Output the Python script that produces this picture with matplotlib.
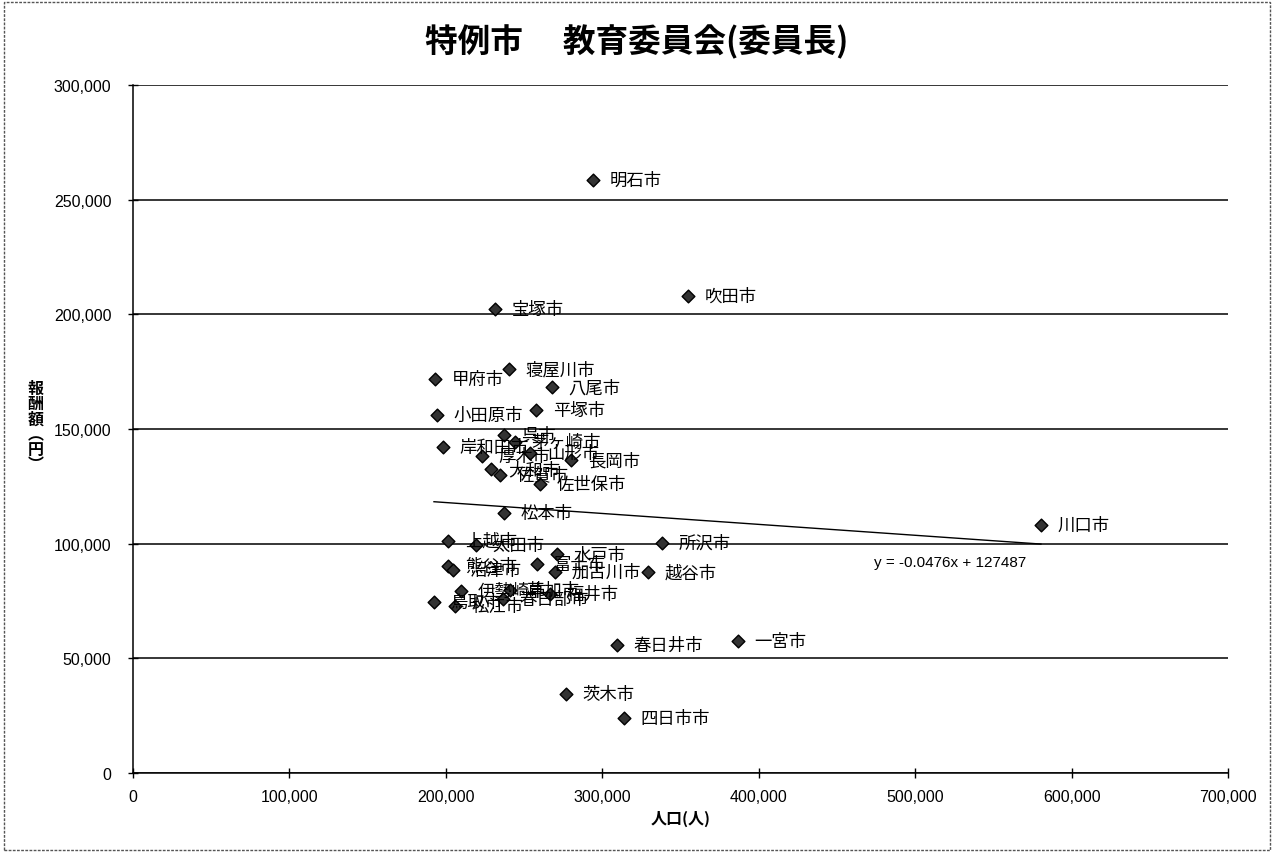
import numpy as np
import matplotlib
matplotlib.use('Agg')
import matplotlib.pyplot as plt
from matplotlib.ticker import FuncFormatter

plt.rcParams['font.family'] = ['Noto Sans CJK JP', 'DejaVu Sans']

# city names, population (x) and remuneration (y)
cities = ['明石市', '吹田市', '宝塚市', '寝屋川市', '甲府市', '八尾市', '小田原市', '平塚市',
          '岸和田市', '呉市', '茅ヶ崎市', '厚木市', '山形市', '長岡市', '大和市', '佐賀市',
          '佐世保市', '松本市', '川口市', '上越市', '太田市', '所沢市', '熊谷市', '沼津市',
          '富士市', '水戸市', '加古川市', '越谷市', '鳥取市', '伊勢崎市', '松江市', '春日部市',
          '草加市', '福井市', '春日井市', '一宮市', '茨木市', '四日市市']
population = [294000, 354800, 231400, 240400, 193000, 267800, 194300, 257600,
              198200, 237200, 244000, 223100, 254000, 280000, 229000, 234500,
              260200, 237200, 580400, 201400, 219000, 338200, 201400, 204600,
              258300, 271000, 269800, 329200, 192400, 209700, 205800, 236500,
              241000, 266600, 309400, 386800, 276800, 313900]
reward = [258600, 208000, 202300, 176200, 171800, 168300, 156100, 158300,
          142200, 147400, 144500, 138200, 139500, 136500, 132500, 130200,
          126000, 113400, 108100, 101200, 99400, 100300, 90300, 88500,
          91100, 95500, 87600, 87600, 74600, 79400, 72800, 76000,
          79800, 78000, 55800, 57600, 34500, 24000]

x_ticks = [0, 100000, 200000, 300000, 400000, 500000, 600000, 700000]
y_ticks = [0, 50000, 100000, 150000, 200000, 250000, 300000]

fig = plt.figure(figsize=(12.74, 8.54), dpi=100)
ax = fig.add_axes([0.1044, 0.0937, 0.8595, 0.8053])

x = np.array(population)
y = np.array(reward)
ax.scatter(x, y, marker='D', s=42, facecolor='#333333', edgecolor='black',
           linewidths=1.0, zorder=3)

for name, px, py in zip(cities, population, reward):
    ax.annotate(name, (px, py), xytext=(12, 0), textcoords='offset points',
                va='center', ha='left', fontsize=12.5, zorder=4)

# linear trend line as printed on the chart
slope, intercept = -0.0476, 127487
tx = np.array([x.min(), x.max()])
ax.plot(tx, slope * tx + intercept, color='black', lw=1.0, zorder=2)
ax.text(474000, 92000, 'y = -0.0476x + 127487', fontsize=11,
        family=['Liberation Sans', 'DejaVu Sans'], va='center')

ax.set_xlim(0, 700000)
ax.set_ylim(0, 300000)
ax.set_xticks(x_ticks)
ax.set_yticks(y_ticks)
fmt = FuncFormatter(lambda v, p: f'{int(v):,}')
ax.xaxis.set_major_formatter(fmt)
ax.yaxis.set_major_formatter(fmt)
for lab in ax.get_xticklabels() + ax.get_yticklabels():
    lab.set_family(['Liberation Sans', 'DejaVu Sans'])
    lab.set_fontsize(11.5)
ax.tick_params(axis='both', direction='inout', length=7, width=1, color='black')
ax.tick_params(axis='y', pad=12)
ax.tick_params(axis='x', pad=8)
ax.yaxis.grid(True, color='black', lw=1.1)
ax.set_axisbelow(True)
ax.spines['top'].set_visible(False)
ax.spines['right'].set_visible(False)
ax.spines['left'].set_linewidth(1.1)
ax.spines['bottom'].set_linewidth(1.1)

ax.set_xlabel('人口(人)', fontsize=11.5, fontweight='bold', labelpad=4)
fig.text(0.028, 0.50, '報\n酬\n額\n︵\n円\n︶', fontsize=11.5, fontweight='bold',
         ha='center', va='center', linespacing=0.95)
fig.suptitle('特例市　 教育委員会(委員長)', fontsize=23.5, fontweight='bold', y=0.971)

# outer frame of the chart area
fig.patches.append(plt.Rectangle((0.003, 0.003), 0.994, 0.994, transform=fig.transFigure,
                                 fill=False, ec='#555555', lw=1.0, ls=(0, (2, 1))))

fig.savefig('out.png', dpi=100)
